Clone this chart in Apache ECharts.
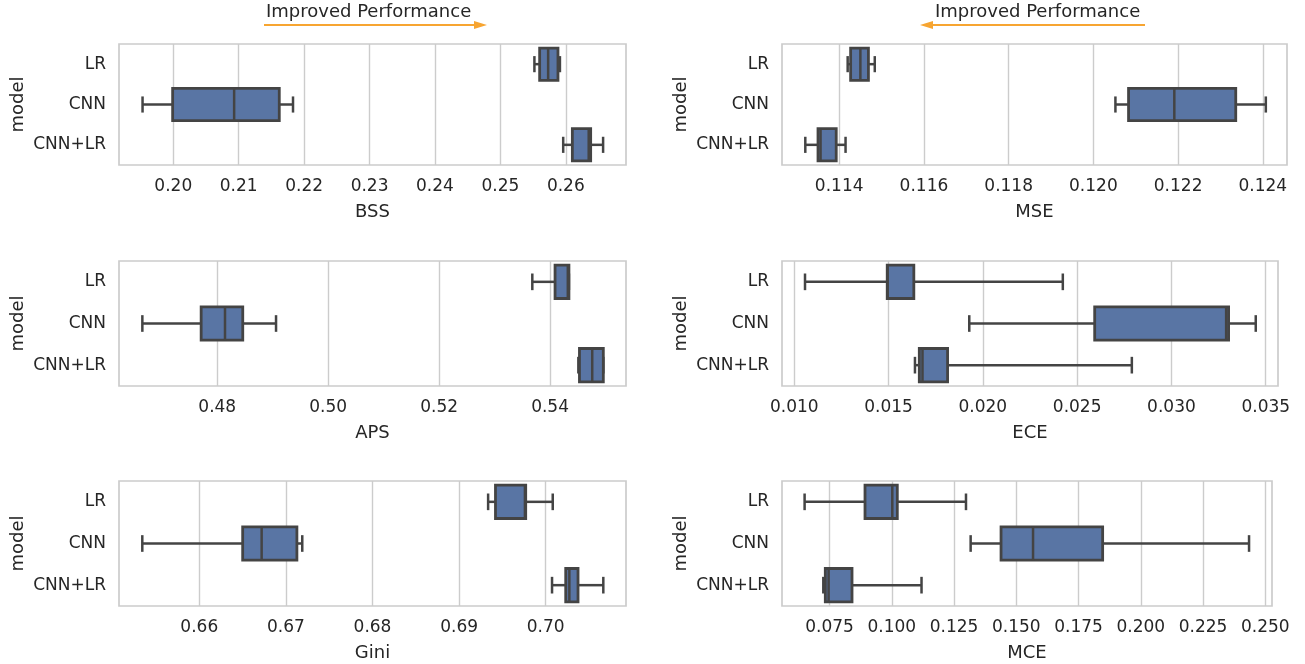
<!DOCTYPE html>
<html>
<head>
<meta charset="utf-8">
<title>Model comparison</title>
<script src="https://cdn.jsdelivr.net/npm/echarts@6/dist/echarts.min.js"></script>
<style>
  html, body { margin: 0; padding: 0; background: #ffffff; }
  #chart { width: 1305px; height: 664px; }
</style>
</head>
<body>
<div id="chart"></div>
<script>
// Models on the category axis (top to bottom)
const models = ['LR', 'CNN', 'CNN+LR'];

// Box statistics per model: [whisker low, Q1, median, Q3, whisker high]
const bssStats = [
  [0.2552, 0.2560, 0.2573, 0.2588, 0.2591],
  [0.1953, 0.1999, 0.2093, 0.2162, 0.2183],
  [0.2596, 0.2610, 0.2635, 0.2638, 0.2657]
];
const mseStats = [
  [0.11420, 0.11427, 0.11450, 0.11469, 0.11484],
  [0.12052, 0.12083, 0.12191, 0.12336, 0.12407],
  [0.11320, 0.11350, 0.11356, 0.11393, 0.11415]
];
const apsStats = [
  [0.5368, 0.5409, 0.5432, 0.5434, 0.5434],
  [0.4665, 0.4771, 0.4814, 0.4846, 0.4906],
  [0.5451, 0.5453, 0.5476, 0.5496, 0.5496]
];
const eceStats = [
  [0.01057, 0.01493, 0.01495, 0.01634, 0.02424],
  [0.01928, 0.02593, 0.03290, 0.03303, 0.03447],
  [0.01640, 0.01663, 0.01680, 0.01813, 0.02790]
];
const giniStats = [
  [0.69335, 0.69420, 0.69760, 0.69769, 0.70081],
  [0.65342, 0.66501, 0.66720, 0.67127, 0.67189],
  [0.70073, 0.70231, 0.70273, 0.70373, 0.70665]
];
const mceStats = [
  [0.06496, 0.08922, 0.10018, 0.10219, 0.12978],
  [0.13165, 0.14386, 0.15671, 0.18467, 0.24347],
  [0.07247, 0.07327, 0.07460, 0.08400, 0.11192]
];

// Tick labels on each value axis
const bssTicks = [0.20, 0.21, 0.22, 0.23, 0.24, 0.25, 0.26];
const mseTicks = [0.114, 0.116, 0.118, 0.120, 0.122, 0.124];
const apsTicks = [0.48, 0.50, 0.52, 0.54];
const eceTicks = [0.010, 0.015, 0.020, 0.025, 0.030, 0.035];
const giniTicks = [0.66, 0.67, 0.68, 0.69, 0.70];
const mceTicks = [0.075, 0.100, 0.125, 0.150, 0.175, 0.200, 0.225, 0.250];

// Visible value range of each axis [min, max]
const bssRange = [0.1917, 0.2692];
const mseRange = [0.11265, 0.12457];
const apsRange = [0.46229, 0.55369];
const eceRange = [0.00935, 0.03565];
const giniRange = [0.65073, 0.70927];
const mceRange = [0.05588, 0.25269];

const FONT = 'DejaVu Sans';
const TEXT = '#262626';
const GRIDC = '#cccccc';
const FILL = '#5975a4';
const EDGE = '#444444';
const ARROW = '#f7a531';

// Panel layout: metric name, stats, ticks, range, decimals, grid box
const panels = [
  { name: 'BSS',  stats: bssStats,  ticks: bssTicks,  range: bssRange,  dec: 2, box: { left: 119, top: 44,  width: 507, height: 121 } },
  { name: 'MSE',  stats: mseStats,  ticks: mseTicks,  range: mseRange,  dec: 3, box: { left: 782, top: 44,  width: 505, height: 121 } },
  { name: 'APS',  stats: apsStats,  ticks: apsTicks,  range: apsRange,  dec: 2, box: { left: 119, top: 261, width: 507, height: 125 } },
  { name: 'ECE',  stats: eceStats,  ticks: eceTicks,  range: eceRange,  dec: 3, box: { left: 782, top: 261, width: 496, height: 125 } },
  { name: 'Gini', stats: giniStats, ticks: giniTicks, range: giniRange, dec: 2, box: { left: 119, top: 481, width: 507, height: 125 } },
  { name: 'MCE',  stats: mceStats,  ticks: mceTicks,  range: mceRange,  dec: 3, box: { left: 782, top: 481, width: 490, height: 125 } }
];

// Draws one horizontal box-and-whisker glyph with half-width caps
function renderBox(params, api) {
  const cat = api.value(0);
  const lo = api.coord([api.value(1), cat]);
  const q1 = api.coord([api.value(2), cat]);
  const md = api.coord([api.value(3), cat]);
  const q3 = api.coord([api.value(4), cat]);
  const hi = api.coord([api.value(5), cat]);
  const band = api.size([0, 1])[1];
  const half = band * 0.4;
  const cap = band * 0.2;
  const y = lo[1];
  const ls = { stroke: EDGE, lineWidth: 2.5, lineCap: 'butt' };
  return {
    type: 'group',
    children: [
      { type: 'line', shape: { x1: lo[0], y1: y, x2: q1[0], y2: y }, style: ls },
      { type: 'line', shape: { x1: q3[0], y1: y, x2: hi[0], y2: y }, style: ls },
      { type: 'line', shape: { x1: lo[0], y1: y - cap, x2: lo[0], y2: y + cap }, style: ls },
      { type: 'line', shape: { x1: hi[0], y1: y - cap, x2: hi[0], y2: y + cap }, style: ls },
      { type: 'rect', shape: { x: q1[0], y: y - half, width: q3[0] - q1[0], height: half * 2 },
        style: { fill: FILL, stroke: EDGE, lineWidth: 2.8 } },
      { type: 'line', shape: { x1: md[0], y1: y - half, x2: md[0], y2: y + half }, style: ls }
    ]
  };
}

const grid = [], xAxis = [], yAxis = [], series = [];
panels.forEach((p, i) => {
  grid.push(Object.assign({ show: true, borderColor: GRIDC, borderWidth: 1.7, backgroundColor: '#ffffff' }, p.box));
  xAxis.push({
    type: 'value', gridIndex: i, min: p.range[0], max: p.range[1],
    name: p.name, nameLocation: 'middle', nameGap: 38,
    nameTextStyle: { fontFamily: FONT, fontSize: 18, color: TEXT },
    axisLine: { show: false },
    axisTick: { show: false, customValues: p.ticks },
    axisLabel: {
      customValues: p.ticks, margin: 13,
      fontFamily: FONT, fontSize: 17, color: TEXT,
      formatter: v => v.toFixed(p.dec)
    },
    splitLine: { show: true, lineStyle: { color: GRIDC, width: 1.4 } }
  });
  yAxis.push({
    type: 'category', gridIndex: i, data: models, inverse: true,
    name: 'model', nameLocation: 'middle', nameGap: 92, nameRotate: 90,
    nameTextStyle: { fontFamily: FONT, fontSize: 18, color: TEXT },
    axisLine: { show: false }, axisTick: { show: false },
    axisLabel: { margin: 13, padding: [4, 0, 0, 0], fontFamily: FONT, fontSize: 17, color: TEXT },
    splitLine: { show: false }
  });
  series.push({
    type: 'custom', name: p.name, xAxisIndex: i, yAxisIndex: i,
    renderItem: renderBox,
    encode: { x: [1, 2, 3, 4, 5], y: 0 },
    data: p.stats.map((s, k) => [k].concat(s)),
    silent: true
  });
});

// "Improved Performance" direction hints above the top panels
const label = { fontFamily: FONT, fontSize: 18, fill: TEXT, text: 'Improved Performance' };
const graphic = [
  { type: 'text', left: 266, top: 3, style: label },
  { type: 'line', shape: { x1: 264, y1: 25, x2: 476, y2: 25 }, style: { stroke: ARROW, lineWidth: 2 } },
  { type: 'polygon', shape: { points: [[474, 21], [487, 25], [474, 29]] }, style: { fill: ARROW } },
  { type: 'text', left: 935, top: 3, style: label },
  { type: 'line', shape: { x1: 1145, y1: 25, x2: 931, y2: 25 }, style: { stroke: ARROW, lineWidth: 2 } },
  { type: 'polygon', shape: { points: [[933, 21], [920, 25], [933, 29]] }, style: { fill: ARROW } }
];

const chart = echarts.init(document.getElementById('chart'), null, { renderer: 'canvas' });
chart.setOption({
  backgroundColor: '#ffffff',
  animation: false,
  textStyle: { fontFamily: FONT },
  grid, xAxis, yAxis, series, graphic
});
</script>
</body>
</html>
